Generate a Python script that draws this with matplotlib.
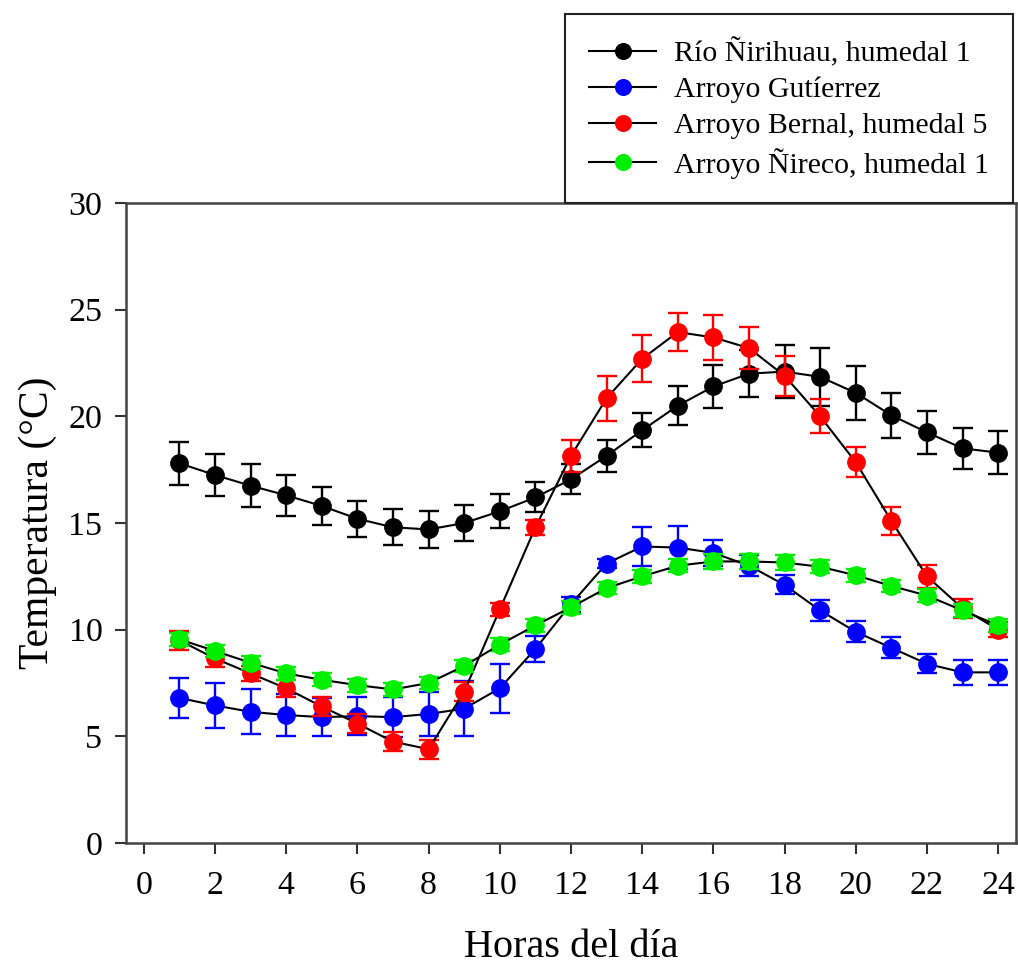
import numpy as np
import matplotlib
matplotlib.use('Agg')
import matplotlib.pyplot as plt

plt.rcParams['font.family'] = ['Liberation Serif', 'DejaVu Serif']

# Horas del día (1 a 24)
horas = list(range(1, 25))

# Temperatura media por hora y su error, cada sitio
nirihuau = [17.8, 17.25, 16.75, 16.3, 15.8, 15.2, 14.8, 14.7, 15.0, 15.55, 16.2, 17.05,
            18.15, 19.35, 20.5, 21.4, 22.0, 22.1, 21.85, 21.1, 20.05, 19.25, 18.5, 18.3]
nirihuau_err = [1.0, 1.0, 1.0, 0.95, 0.9, 0.85, 0.85, 0.85, 0.85, 0.8, 0.7, 0.7,
                0.75, 0.8, 0.9, 1.0, 1.1, 1.25, 1.35, 1.25, 1.05, 1.0, 0.95, 1.0]

gutierrez = [6.8, 6.45, 6.15, 6.0, 5.9, 5.95, 5.9, 6.05, 6.3, 7.25, 9.1, 11.2,
             13.1, 13.9, 13.85, 13.6, 13.0, 12.1, 10.9, 9.9, 9.15, 8.4, 8.0, 8.0]
gutierrez_err = [0.95, 1.05, 1.05, 1.0, 0.9, 0.9, 0.95, 1.05, 1.3, 1.15, 0.6, 0.35,
                 0.2, 0.9, 1.0, 0.6, 0.5, 0.45, 0.5, 0.5, 0.5, 0.45, 0.6, 0.6]

bernal = [9.5, 8.65, 7.95, 7.25, 6.4, 5.6, 4.75, 4.4, 7.1, 10.95, 14.8, 18.15,
          20.85, 22.7, 23.95, 23.7, 23.2, 21.9, 20.0, 17.85, 15.1, 12.5, 11.0, 10.0]
bernal_err = [0.45, 0.4, 0.35, 0.4, 0.45, 0.45, 0.45, 0.45, 0.45, 0.3, 0.35, 0.75,
              1.05, 1.1, 0.9, 1.05, 1.0, 0.95, 0.8, 0.7, 0.65, 0.55, 0.45, 0.35]

nireco = [9.55, 9.0, 8.45, 7.95, 7.65, 7.4, 7.2, 7.5, 8.3, 9.3, 10.2, 11.05,
          11.95, 12.5, 13.0, 13.2, 13.2, 13.15, 12.95, 12.55, 12.05, 11.6, 10.9, 10.2]
nireco_err = [0.3, 0.3, 0.3, 0.3, 0.3, 0.3, 0.3, 0.3, 0.3, 0.3, 0.3, 0.3,
              0.3, 0.3, 0.3, 0.35, 0.35, 0.35, 0.3, 0.3, 0.3, 0.3, 0.3, 0.3]

sitios = ['Río Ñirihuau, humedal 1', 'Arroyo Gutíerrez',
          'Arroyo Bernal, humedal 5', 'Arroyo Ñireco, humedal 1']
colores = ['#000000', '#0000ff', '#ff0000', '#00ee00']

fig = plt.figure(figsize=(10.18, 9.65), dpi=100)
ax = fig.add_axes([0.1238, 0.1264, 0.8742, 0.6632])

series = [(nirihuau, nirihuau_err), (gutierrez, gutierrez_err),
          (bernal, bernal_err), (nireco, nireco_err)]
for i, ((y, e), nombre, c) in enumerate(zip(series, sitios, colores)):
    ax.errorbar(horas, y, yerr=e, fmt='none', ecolor=c, elinewidth=1.7,
                capsize=7, capthick=1.7, zorder=2 + i)
    ax.plot(horas, y, '-', color='black', lw=1.5, marker='o', ms=12.5,
            markerfacecolor=c, markeredgecolor=c, label=nombre, zorder=2 + i)

ax.set_xlim(-0.5, 24.5)
ax.set_ylim(0, 30)
ax.set_xticks(np.arange(0, 25, 2))
ax.set_yticks(np.arange(0, 31, 5))
ax.tick_params(axis='both', labelsize=24.5, length=8, width=1.5, color='#333333',
               direction='out')
ax.tick_params(axis='x', pad=12)
ax.tick_params(axis='y', pad=9)
for s in ax.spines.values():
    s.set_linewidth(1.8)
    s.set_color('#444444')

ax.set_xlabel('Horas del día', fontsize=29, labelpad=20)
ax.set_ylabel('Temperatura (°C)', fontsize=30, labelpad=8)

leg = fig.legend(loc='upper right', bbox_to_anchor=(0.995, 0.9855),
                 fontsize=21.5, handlelength=2.25, labelspacing=0.3,
                 borderpad=0.8, handletextpad=0.6, borderaxespad=0,
                 fancybox=False, framealpha=1, edgecolor='#222222',
                 markerscale=0.9)
leg.get_frame().set_linewidth(1.5)

fig.savefig('out.png', dpi=100)
